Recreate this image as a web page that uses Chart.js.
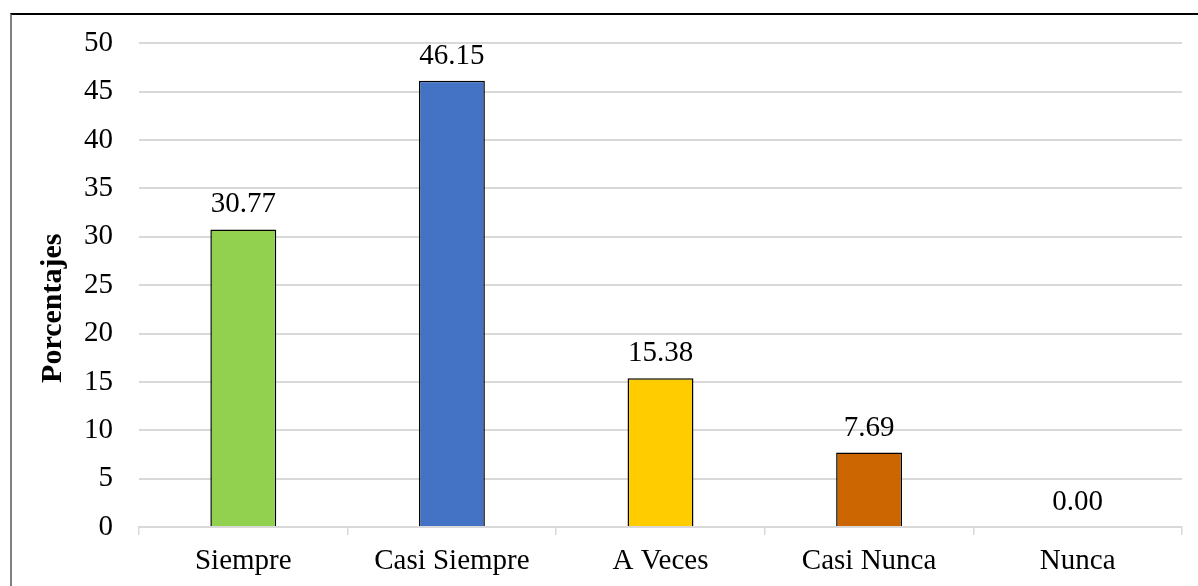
<!DOCTYPE html>
<html>
<head>
<meta charset="utf-8">
<script src="https://cdn.jsdelivr.net/npm/chart.js@4/dist/chart.umd.min.js"></script>
<style>
  html, body { margin: 0; padding: 0; background: #ffffff; }
  #wrap { position: relative; width: 1198px; height: 586px; overflow: hidden; }
  #frame { position: absolute; left: 10px; top: 13px; width: 1200px; height: 600px;
           border-top: 2px solid #000000; border-left: 2px solid #808080; box-sizing: border-box; }
  canvas { position: absolute; left: 0; top: 0; }
</style>
</head>
<body>
<div id="wrap">
  <div id="frame"></div>
  <canvas id="c" width="1198" height="586"></canvas>
</div>
<script>
const categories = ["Siempre", "Casi Siempre", "A Veces", "Casi Nunca", "Nunca"];
const percentages = [30.77, 46.15, 15.38, 7.69, 0.00];
const barColors = ["#92D050", "#4472C4", "#FFCC00", "#CC6600", "#A5A5A5"];
const yTicks = [0, 5, 10, 15, 20, 25, 30, 35, 40, 45, 50];
const yTitle = "Porcentajes";

const FONT = "'Liberation Serif', 'Times New Roman', serif";

const valueLabels = {
  id: 'valueLabels',
  afterDatasetsDraw(chart) {
    const ctx = chart.ctx;
    const meta = chart.getDatasetMeta(0);
    ctx.save();
    ctx.font = "29px " + FONT;
    ctx.fillStyle = "#000000";
    ctx.textAlign = "center";
    ctx.textBaseline = "alphabetic";
    meta.data.forEach((bar, i) => {
      ctx.fillText(percentages[i].toFixed(2), bar.x, bar.y - 17);
    });
    ctx.restore();
  }
};

const yTitlePlugin = {
  id: 'yTitlePlugin',
  afterDraw(chart) {
    const ctx = chart.ctx;
    const area = chart.chartArea;
    ctx.save();
    ctx.translate(53, (area.top + area.bottom) / 2 + 23);
    ctx.rotate(-Math.PI / 2);
    ctx.font = "bold 30px " + FONT;
    ctx.fillStyle = "#000000";
    ctx.textAlign = "center";
    ctx.textBaseline = "middle";
    ctx.fillText(yTitle, 0, 0);
    ctx.restore();
  }
};

new Chart(document.getElementById('c'), {
  type: 'bar',
  data: {
    labels: categories,
    datasets: [{
      data: percentages,
      backgroundColor: barColors,
      borderColor: "#000000",
      borderWidth: 1.5,
      barPercentage: 0.316,
      categoryPercentage: 1.0
    }]
  },
  options: {
    responsive: false,
    animation: false,
    devicePixelRatio: 1,
    layout: { padding: { top: 43, right: 16, bottom: 0, left: 0 } },
    plugins: { legend: { display: false }, tooltip: { enabled: false } },
    scales: {
      x: {
        grid: { display: true, drawOnChartArea: false, offset: true, color: "#d9d9d9", tickLength: 8, lineWidth: 1.5 },
        border: { display: true, color: "#d9d9d9", width: 2 },
        ticks: { color: "#000000", font: { family: FONT, size: 29 }, padding: 9, maxRotation: 0 },
        afterFit(s) { s.height = 59; }
      },
      y: {
        min: 0, max: 50,
        afterBuildTicks(s) { s.ticks = yTicks.map(v => ({ value: v })); },
        grid: { color: "#d9d9d9", lineWidth: 2, drawTicks: false },
        border: { display: false },
        ticks: { color: "#000000", font: { family: FONT, size: 29 }, padding: 26 },
        title: { display: false },
        afterFit(s) { s.width = 139; }
      }
    }
  },
  plugins: [valueLabels, yTitlePlugin]
});
</script>
</body>
</html>
